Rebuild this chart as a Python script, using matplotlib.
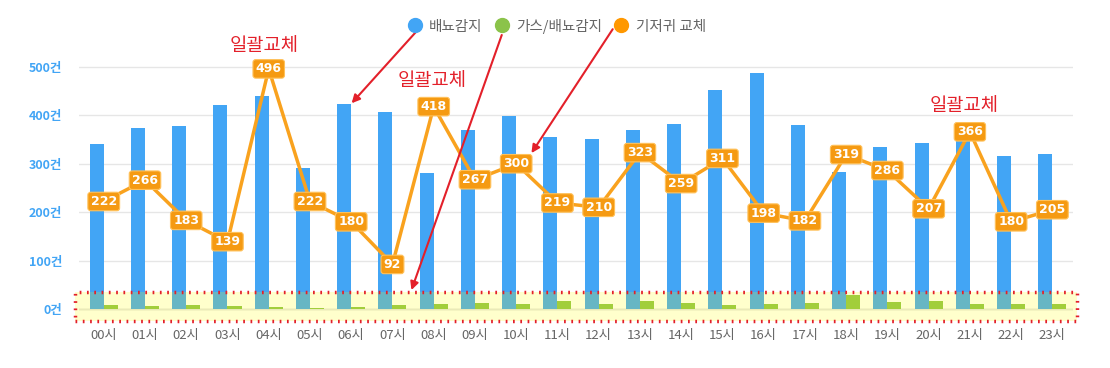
import matplotlib as mpl
mpl.use('Agg')
import matplotlib.pyplot as plt
from matplotlib.patches import Rectangle
import numpy as np

plt.rcParams['font.family'] = ['Noto Sans CJK KR', 'DejaVu Sans']

hours = ['%02d시' % h for h in range(24)]
drain = [340, 373, 377, 421, 440, 292, 423, 406, 281, 369, 398, 356,
         352, 369, 383, 452, 488, 381, 283, 335, 342, 355, 315, 321]
gas_drain = [8, 6, 8, 6, 3, 1, 5, 8, 10, 12, 10, 17,
             10, 16, 12, 9, 10, 13, 28, 15, 17, 10, 10, 10]
diaper = [222, 266, 183, 139, 496, 222, 180, 92, 418, 267, 300, 219,
          210, 323, 259, 311, 198, 182, 319, 286, 207, 366, 180, 205]
yticks = [0, 100, 200, 300, 400, 500]

BLUE = '#42a5f5'
GREEN = '#8bc34a'
ORANGE = '#f9a21e'
RED = '#e3202a'

fig = plt.figure(figsize=(11.1, 3.68), dpi=100)
ax = fig.add_axes([79 / 1110, 0.121, 994 / 1110, 0.776])

x = np.arange(len(hours))
w = 0.34
ax.bar(x - w / 2, drain, w, color=BLUE, label='배뇨감지', zorder=2)
ax.bar(x + w / 2, gas_drain, w, color=GREEN, label='가스/배뇨감지', zorder=2)
ax.plot(x, diaper, color=ORANGE, lw=2.5, label='기저귀 교체', zorder=3)

# value boxes on the line
for xi, v in zip(x, diaper):
    ax.text(xi, v, str(v), ha='center', va='center', color='white',
            fontsize=9, fontweight='bold', family='DejaVu Sans', zorder=4,
            bbox=dict(boxstyle='round,pad=0.22', fc='#f59a12', ec='#ffc15a', lw=0.8))

ax.set_xlim(-0.6, 23.5)
ax.set_ylim(-30, 560)
ax.set_yticks(yticks)
ax.set_yticklabels(['%d건' % t for t in yticks], color=BLUE, fontsize=9, fontweight='bold')
ax.set_xticks(x)
ax.set_xticklabels(hours, color='#666666', fontsize=9.5)
ax.tick_params(axis='x', length=0, pad=4)
ax.tick_params(axis='y', length=0, pad=12)
for s in ax.spines.values():
    s.set_visible(False)
ax.grid(axis='y', color='#e6e6e6', lw=1, zorder=0)
ax.axhline(0, color='#cccccc', lw=1, zorder=1)

# highlighted bottom band
ax.add_patch(Rectangle((-0.7, -24), 24.3, 59, facecolor=(1, 1, 0, 0.2),
                       edgecolor='none', zorder=5, clip_on=False))
ax.add_patch(Rectangle((-0.7, -24), 24.3, 59, facecolor='none', edgecolor=RED,
                       lw=2.5, linestyle=(0, (0.5, 1.6)), zorder=6, clip_on=False))

# annotations
for tx, ty in [(3.9, 545), (7.97, 473), (20.87, 421)]:
    ax.text(tx, ty, '일괄교체', color=RED, fontsize=13.5, ha='center', va='center',
            clip_on=False, zorder=7)

arrows = [((7.63, 578), (6.01, 425)),
          ((9.65, 566), (7.46, 39)),
          ((12.34, 578), (10.37, 322))]
for start, end in arrows:
    ax.annotate('', xy=end, xytext=start, annotation_clip=False, zorder=7,
                arrowprops=dict(arrowstyle='-|>', color=RED, lw=1.5,
                                mutation_scale=12, shrinkA=0, shrinkB=0))

handles = [plt.Line2D([], [], marker='o', ls='none', ms=10, color=c)
           for c in [BLUE, GREEN, '#ff9800']]
fig.legend(handles, ['배뇨감지', '가스/배뇨감지', '기저귀 교체'], loc='center',
           bbox_to_anchor=(553 / 1110, 1 - 26 / 368), ncol=3, frameon=False,
           fontsize=10.5, labelcolor='#666666', handletextpad=0.0, columnspacing=0.3)

plt.savefig('out.png', dpi=100)
